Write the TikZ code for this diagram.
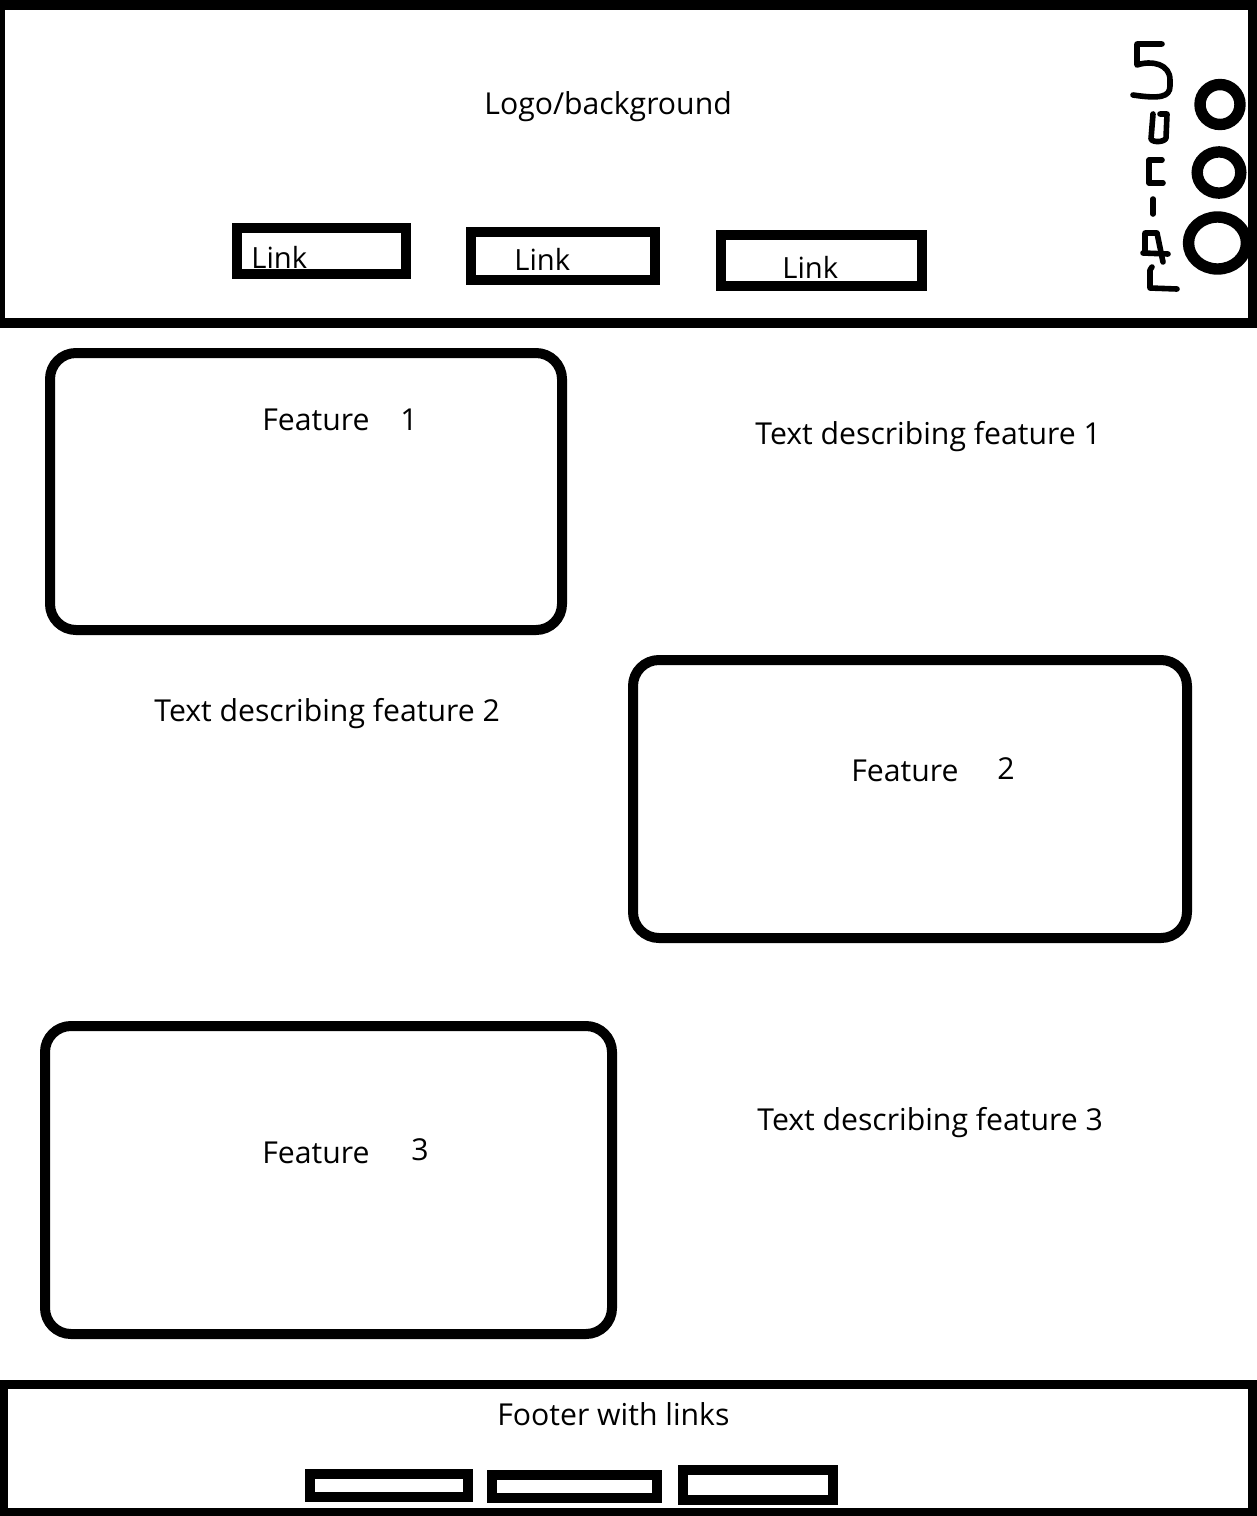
\documentclass[tikz,border=0pt]{standalone}
\usepackage{fontspec}
\setmainfont{Open Sans}
\begin{document}
\begin{tikzpicture}[x=0.5pt,y=-0.5pt,
  frame/.style={draw=black,line width=5pt},
  linkbox/.style={draw=black,line width=5pt},
  featbox/.style={draw=black,line width=5pt,rounded corners=13pt},
  pen/.style={draw=black,line width=2.8pt,line cap=round,line join=round},
  ring/.style={draw=black,line width=5.7pt},
  lbl/.style={inner sep=0pt,anchor=base west,font=\fontsize{15.1}{18}\selectfont},
  linklbl/.style={inner sep=0pt,anchor=base west,font=\fontsize{14.6}{17}\selectfont}]
\useasboundingbox (0,0) rectangle (1257,1516);
\fill[white] (0,0) rectangle (1257,1516);
\begin{scope}
\clip (0,0) rectangle (1257,1516);
% header
\draw[frame] (0,5) rectangle (1253,323);
% footer
\draw[frame,line width=4.5pt] (3.5,1384) rectangle (1252,1512);
\end{scope}
% header links
\draw[linkbox] (237,228) rectangle (406,274);
\draw[linkbox] (471,232) rectangle (655,280);
\draw[linkbox] (721,235) rectangle (922,286);
\node[linklbl] (l1) at (251,268) {Link};
\node[linklbl] (l2) at (514,270) {Link};
\node[linklbl] (l3) at (782,278) {Link};
\node[lbl] (logo) at (484,114) {Logo/background};
% social circles
\draw[ring] (1220,104.5) ellipse [x radius=10pt,y radius=10pt];
\draw[ring] (1219,172.5) ellipse [x radius=10.9pt,y radius=10.3pt];
\draw[ring] (1217.5,243) ellipse [x radius=14.5pt,y radius=13pt];
% social handwriting
\draw[pen] (1162,44) -- (1137,44) -- (1137,65) .. controls (1152,60) and (1170,64) .. (1170,80) -- (1170,86) .. controls (1170,97) and (1160,99) .. (1133,95);
\draw[pen] (1160,114) -- (1167,114) -- (1166,138) .. controls (1165,142) and (1153,143) .. (1151,139) -- (1153,114);
\draw[pen] (1162,160) -- (1149,160) -- (1149,183) -- (1163,183);
\draw[pen] (1153,199) -- (1153,214);
\draw[pen] (1145,253) -- (1145,233) -- (1157,233) -- (1163,262);
\draw[pen] (1143,253) -- (1168,254);
\draw[pen] (1152,267) -- (1150,270) -- (1150,288) -- (1177,289);
% features
\draw[featbox] (50,353) rectangle (562,630);
\node[lbl] (f1a) at (262,430) {Feature};
\node[lbl] (f1b) at (400,430) {1};
\node[lbl] (t1) at (755,444) {Text describing feature 1};
\draw[featbox] (633,660) rectangle (1187,938);
\node[lbl] (f2a) at (851,781) {Feature};
\node[lbl] (f2b) at (997,779) {2};
\node[lbl] (t2) at (154,721) {Text describing feature 2};
\draw[featbox] (45,1026) rectangle (612,1334);
\node[lbl] (f3a) at (262,1163) {Feature};
\node[lbl] (f3b) at (411,1160) {3};
\node[lbl] (t3) at (757,1130) {Text describing feature 3};
% footer
\node[lbl] (foot) at (497,1425) {Footer with links};
\draw[linkbox] (310,1474) rectangle (468,1497);
\draw[linkbox] (492,1475) rectangle (657,1498);
\draw[linkbox] (683,1470) rectangle (833,1500);
\end{tikzpicture}
\end{document}
